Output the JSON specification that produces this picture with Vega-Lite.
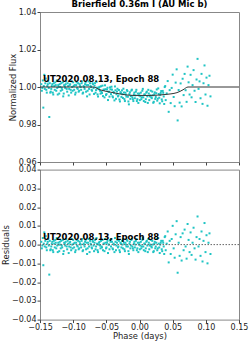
{
  "$schema": "https://vega.github.io/schema/vega-lite/v6.json",
  "padding": {"left": 0, "top": -1, "right": 0, "bottom": 0},
  "config": {
    "font": "DejaVu Sans",
    "view": {"stroke": "#888888", "strokeWidth": 1},
    "axis": {"grid": false, "domain": false, "tickColor": "#444444", "tickSize": 3, "labelFontSize": 8, "labelColor": "#222222", "titleFontSize": 8.4, "titleFontWeight": "normal", "titleColor": "#222222", "labelPadding": 1, "titlePadding": 1, "labelFlush": false, "labelOverlap": false}
  },
  "datasets": {
    "pts": [
      {"x": -0.148, "f": 1.0015, "r": 0.0015}, {"x": -0.1465, "f": 0.9995, "r": -0.0005}, {"x": -0.145, "f": 0.989, "r": -0.011}, {"x": -0.1435, "f": 1.0065, "r": 0.0065}, {"x": -0.142, "f": 1.002, "r": 0.002},
      {"x": -0.1405, "f": 0.9985, "r": -0.0015}, {"x": -0.139, "f": 1.0005, "r": 0.0005}, {"x": -0.1375, "f": 1.003, "r": 0.003}, {"x": -0.136, "f": 0.984, "r": -0.016}, {"x": -0.1345, "f": 0.997, "r": -0.003},
      {"x": -0.133, "f": 0.999, "r": -0.001}, {"x": -0.1315, "f": 1.0015, "r": 0.0015}, {"x": -0.13, "f": 0.996, "r": -0.004}, {"x": -0.1285, "f": 1.0005, "r": 0.0005}, {"x": -0.127, "f": 1.0025, "r": 0.0025},
      {"x": -0.1255, "f": 0.998, "r": -0.002}, {"x": -0.124, "f": 0.9995, "r": -0.0005}, {"x": -0.1225, "f": 1.001, "r": 0.001}, {"x": -0.121, "f": 0.9965, "r": -0.0035}, {"x": -0.1195, "f": 1.0, "r": 0.0},
      {"x": -0.118, "f": 1.002, "r": 0.002}, {"x": -0.1165, "f": 0.9985, "r": -0.0015}, {"x": -0.115, "f": 0.995, "r": -0.005}, {"x": -0.1135, "f": 1.001, "r": 0.001}, {"x": -0.112, "f": 0.9995, "r": -0.0005},
      {"x": -0.1105, "f": 1.003, "r": 0.003}, {"x": -0.109, "f": 0.9975, "r": -0.0025}, {"x": -0.1075, "f": 1.0005, "r": 0.0005}, {"x": -0.106, "f": 0.999, "r": -0.001}, {"x": -0.1045, "f": 1.0015, "r": 0.0015},
      {"x": -0.103, "f": 0.997, "r": -0.003}, {"x": -0.1015, "f": 1.0, "r": 0.0}, {"x": -0.1, "f": 1.0025, "r": 0.0025}, {"x": -0.0985, "f": 0.9985, "r": -0.0015}, {"x": -0.097, "f": 0.996, "r": -0.004},
      {"x": -0.0955, "f": 1.001, "r": 0.001}, {"x": -0.094, "f": 0.9995, "r": -0.0005}, {"x": -0.0925, "f": 1.002, "r": 0.002}, {"x": -0.091, "f": 0.998, "r": -0.002}, {"x": -0.0895, "f": 1.0005, "r": 0.0005},
      {"x": -0.088, "f": 0.9985, "r": -0.0015}, {"x": -0.0865, "f": 1.003, "r": 0.003}, {"x": -0.085, "f": 0.997, "r": -0.003}, {"x": -0.0835, "f": 1.0, "r": 0.0}, {"x": -0.082, "f": 1.0015, "r": 0.0015},
      {"x": -0.0805, "f": 0.9975, "r": -0.0025}, {"x": -0.079, "f": 0.995, "r": -0.005}, {"x": -0.0775, "f": 1.001, "r": 0.001}, {"x": -0.076, "f": 0.999, "r": -0.001}, {"x": -0.0745, "f": 1.002, "r": 0.002},
      {"x": -0.073, "f": 1.0, "r": 0.0}, {"x": -0.0715, "f": 0.998, "r": -0.002}, {"x": -0.07, "f": 1.0015, "r": 0.0015}, {"x": -0.0685, "f": 0.99629, "r": -0.0035}, {"x": -0.067, "f": 1.00207, "r": 0.0025},
      {"x": -0.0655, "f": 0.99836, "r": -0.001}, {"x": -0.064, "f": 0.99964, "r": 0.0005}, {"x": -0.0625, "f": 0.99493, "r": -0.004}, {"x": -0.061, "f": 0.99971, "r": 0.001}, {"x": -0.0595, "f": 0.998, "r": -0.0005},
      {"x": -0.058, "f": 1.00038, "r": 0.002}, {"x": -0.0565, "f": 0.99676, "r": -0.0015}, {"x": -0.055, "f": 0.99514, "r": -0.003}, {"x": -0.0535, "f": 0.99852, "r": 0.0005}, {"x": -0.052, "f": 1.0009, "r": 0.003},
      {"x": -0.0505, "f": 0.99578, "r": -0.002}, {"x": -0.049, "f": 0.99866, "r": 0.001}, {"x": -0.0475, "f": 0.99304, "r": -0.0045}, {"x": -0.046, "f": 0.99742, "r": 0.0}, {"x": -0.0445, "f": 0.9998, "r": 0.0025},
      {"x": -0.043, "f": 0.9962, "r": -0.001}, {"x": -0.0415, "f": 0.9986, "r": 0.0015}, {"x": -0.04, "f": 0.9945, "r": -0.0025}, {"x": -0.0385, "f": 0.9969, "r": 0.0}, {"x": -0.037, "f": 1.0003, "r": 0.0035},
      {"x": -0.0355, "f": 0.9937, "r": -0.003}, {"x": -0.034, "f": 0.9976, "r": 0.001}, {"x": -0.0325, "f": 0.995, "r": -0.0015}, {"x": -0.031, "f": 0.9984, "r": 0.002}, {"x": -0.0295, "f": 0.9923, "r": -0.004},
      {"x": -0.028, "f": 0.99674, "r": 0.0005}, {"x": -0.0265, "f": 0.99818, "r": 0.002}, {"x": -0.025, "f": 0.99412, "r": -0.002}, {"x": -0.0235, "f": 0.99706, "r": 0.001}, {"x": -0.022, "f": 0.9925, "r": -0.0035},
      {"x": -0.0205, "f": 0.99594, "r": 0.0}, {"x": -0.019, "f": 0.99837, "r": 0.0025}, {"x": -0.0175, "f": 0.99481, "r": -0.001}, {"x": -0.016, "f": 0.99075, "r": -0.005}, {"x": -0.0145, "f": 0.99719, "r": 0.0015},
      {"x": -0.013, "f": 0.99513, "r": -0.0005}, {"x": -0.0115, "f": 0.99857, "r": 0.003}, {"x": -0.01, "f": 0.99351, "r": -0.002}, {"x": -0.0085, "f": 0.996, "r": 0.0005}, {"x": -0.007, "f": 0.994, "r": -0.0015},
      {"x": -0.0055, "f": 0.9975, "r": 0.002}, {"x": -0.004, "f": 0.9925, "r": -0.003}, {"x": -0.0025, "f": 0.9965, "r": 0.001}, {"x": -0.001, "f": 0.9955, "r": 0.0}, {"x": 0.0005, "f": 0.993, "r": -0.0025},
      {"x": 0.002, "f": 0.997, "r": 0.0015}, {"x": 0.0035, "f": 0.9945, "r": -0.001}, {"x": 0.005, "f": 0.999, "r": 0.0035}, {"x": 0.0065, "f": 0.9925, "r": -0.003}, {"x": 0.008, "f": 0.996, "r": 0.0005},
      {"x": 0.0095, "f": 0.9935, "r": -0.002}, {"x": 0.011, "f": 0.9975, "r": 0.002}, {"x": 0.0125, "f": 0.9915, "r": -0.004}, {"x": 0.014, "f": 0.9965, "r": 0.001}, {"x": 0.0155, "f": 0.995, "r": -0.0005},
      {"x": 0.017, "f": 0.99801, "r": 0.0025}, {"x": 0.0185, "f": 0.99404, "r": -0.0015}, {"x": 0.02, "f": 0.99557, "r": 0.0}, {"x": 0.0215, "f": 0.99211, "r": -0.0035}, {"x": 0.023, "f": 0.99714, "r": 0.0015},
      {"x": 0.0245, "f": 0.99467, "r": -0.001}, {"x": 0.026, "f": 0.9987, "r": 0.003}, {"x": 0.0275, "f": 0.99374, "r": -0.002}, {"x": 0.029, "f": 0.99627, "r": 0.0005}, {"x": 0.0305, "f": 0.9913, "r": -0.0045},
      {"x": 0.032, "f": 0.99684, "r": 0.001}, {"x": 0.0335, "f": 0.99337, "r": -0.0025}, {"x": 0.035, "f": 0.9979, "r": 0.002}, {"x": 0.0365, "f": 0.99494, "r": -0.001}, {"x": 0.038, "f": 0.99997, "r": 0.004},
      {"x": 0.0395, "f": 0.99301, "r": -0.003}, {"x": 0.041, "f": 0.99659, "r": 0.0005}, {"x": 0.0425, "f": 1.00317, "r": 0.007}, {"x": 0.044, "f": 0.98676, "r": -0.0095}, {"x": 0.0455, "f": 0.99834, "r": 0.002},
      {"x": 0.047, "f": 0.99142, "r": -0.005}, {"x": 0.0485, "f": 0.99951, "r": 0.003}, {"x": 0.05, "f": 1.00659, "r": 0.01}, {"x": 0.0515, "f": 0.99467, "r": -0.002}, {"x": 0.053, "f": 0.98976, "r": -0.007},
      {"x": 0.0545, "f": 1.00234, "r": 0.0055}, {"x": 0.056, "f": 1.00942, "r": 0.0125}, {"x": 0.0575, "f": 0.98217, "r": -0.015}, {"x": 0.059, "f": 0.99841, "r": 0.001}, {"x": 0.0605, "f": 0.99166, "r": -0.006},
      {"x": 0.062, "f": 1.00191, "r": 0.004}, {"x": 0.0635, "f": 0.98965, "r": -0.0085}, {"x": 0.065, "f": 1.0044, "r": 0.006}, {"x": 0.0665, "f": 0.99568, "r": -0.003}, {"x": 0.068, "f": 1.00698, "r": 0.008},
      {"x": 0.0695, "f": 0.99828, "r": -0.001}, {"x": 0.071, "f": 0.99208, "r": -0.0075}, {"x": 0.0725, "f": 1.01088, "r": 0.011}, {"x": 0.074, "f": 1.0025, "r": 0.0025}, {"x": 0.0755, "f": 0.996, "r": -0.004},
      {"x": 0.077, "f": 1.0065, "r": 0.0065}, {"x": 0.0785, "f": 0.9945, "r": -0.0055}, {"x": 0.08, "f": 1.001, "r": 0.001}, {"x": 0.0815, "f": 1.009, "r": 0.009}, {"x": 0.083, "f": 0.998, "r": -0.002},
      {"x": 0.0845, "f": 0.992, "r": -0.008}, {"x": 0.086, "f": 1.004, "r": 0.004}, {"x": 0.0875, "f": 1.015, "r": 0.015}, {"x": 0.089, "f": 0.999, "r": -0.001}, {"x": 0.0905, "f": 1.003, "r": 0.003},
      {"x": 0.092, "f": 0.994, "r": -0.006}, {"x": 0.0935, "f": 1.007, "r": 0.007}, {"x": 0.095, "f": 0.991, "r": -0.009}, {"x": 0.0965, "f": 1.002, "r": 0.002}, {"x": 0.098, "f": 1.0115, "r": 0.0115},
      {"x": 0.0995, "f": 0.996, "r": -0.004}, {"x": 0.101, "f": 1.005, "r": 0.005}, {"x": 0.1025, "f": 0.99, "r": -0.01}, {"x": 0.104, "f": 1.001, "r": 0.001}, {"x": 0.1055, "f": 1.006, "r": 0.006},
      {"x": 0.107, "f": 0.995, "r": -0.005},
      {"x": -0.14725, "f": 0.998, "r": -0.002}, {"x": -0.14575, "f": 1.0035, "r": 0.0035}, {"x": -0.14425, "f": 1.0005, "r": 0.0005}, {"x": -0.14275, "f": 0.999, "r": -0.001}, {"x": -0.14125, "f": 1.0045, "r": 0.0045},
      {"x": -0.13975, "f": 0.997, "r": -0.003}, {"x": -0.13825, "f": 1.0015, "r": 0.0015}, {"x": -0.13675, "f": 0.9995, "r": -0.0005}, {"x": -0.13525, "f": 1.002, "r": 0.002}, {"x": -0.13375, "f": 0.9975, "r": -0.0025},
      {"x": -0.13225, "f": 1.0005, "r": 0.0005}, {"x": -0.13075, "f": 0.997, "r": -0.003}, {"x": -0.12925, "f": 1.002, "r": 0.002}, {"x": -0.12775, "f": 0.9985, "r": -0.0015}, {"x": -0.12625, "f": 1.001, "r": 0.001},
      {"x": -0.12475, "f": 1.0035, "r": 0.0035}, {"x": -0.12325, "f": 0.996, "r": -0.004}, {"x": -0.12175, "f": 1.0, "r": 0.0}, {"x": -0.12025, "f": 1.0015, "r": 0.0015}, {"x": -0.11875, "f": 0.998, "r": -0.002},
      {"x": -0.11725, "f": 0.9995, "r": -0.0005}, {"x": -0.11575, "f": 1.0025, "r": 0.0025}, {"x": -0.11425, "f": 0.9965, "r": -0.0035}, {"x": -0.11275, "f": 1.0005, "r": 0.0005}, {"x": -0.11125, "f": 1.0015, "r": 0.0015},
      {"x": -0.10975, "f": 0.999, "r": -0.001}, {"x": -0.10825, "f": 1.002, "r": 0.002}, {"x": -0.10675, "f": 0.9955, "r": -0.0045}, {"x": -0.10525, "f": 1.001, "r": 0.001}, {"x": -0.10375, "f": 0.9985, "r": -0.0015},
      {"x": -0.10225, "f": 1.003, "r": 0.003}, {"x": -0.10075, "f": 0.998, "r": -0.002}, {"x": -0.09925, "f": 1.0005, "r": 0.0005}, {"x": -0.09775, "f": 1.001, "r": 0.001}, {"x": -0.09625, "f": 0.997, "r": -0.003},
      {"x": -0.09475, "f": 1.0025, "r": 0.0025}, {"x": -0.09325, "f": 0.999, "r": -0.001}, {"x": -0.09175, "f": 0.9975, "r": -0.0025}, {"x": -0.09025, "f": 1.0015, "r": 0.0015}, {"x": -0.08875, "f": 1.0, "r": 0.0},
      {"x": -0.08725, "f": 1.002, "r": 0.002}, {"x": -0.08575, "f": 0.9965, "r": -0.0035}, {"x": -0.08425, "f": 1.0005, "r": 0.0005}, {"x": -0.08275, "f": 0.999, "r": -0.001}, {"x": -0.08125, "f": 1.0025, "r": 0.0025},
      {"x": -0.07975, "f": 1.001, "r": 0.001}, {"x": -0.07825, "f": 0.998, "r": -0.002}, {"x": -0.07675, "f": 1.003, "r": 0.003}, {"x": -0.07525, "f": 0.996, "r": -0.004}, {"x": -0.07375, "f": 1.0005, "r": 0.0005},
      {"x": -0.07225, "f": 0.9985, "r": -0.0015}, {"x": -0.07075, "f": 1.002, "r": 0.002}, {"x": -0.06925, "f": 0.9994, "r": -0.0005}, {"x": -0.06775, "f": 1.00068, "r": 0.001}, {"x": -0.06625, "f": 0.99697, "r": -0.0025},
      {"x": -0.06475, "f": 1.00275, "r": 0.0035}, {"x": -0.06325, "f": 0.99604, "r": -0.003}, {"x": -0.06175, "f": 0.99882, "r": 0.0}, {"x": -0.06025, "f": 1.0001, "r": 0.0015}, {"x": -0.05875, "f": 0.99644, "r": -0.002},
      {"x": -0.05725, "f": 0.99732, "r": -0.001}, {"x": -0.05575, "f": 1.0007, "r": 0.0025}, {"x": -0.05425, "f": 0.99858, "r": 0.0005}, {"x": -0.05275, "f": 0.99446, "r": -0.0035}, {"x": -0.05125, "f": 0.99884, "r": 0.001},
      {"x": -0.04975, "f": 0.99622, "r": -0.0015}, {"x": -0.04825, "f": 0.9996, "r": 0.002}, {"x": -0.04675, "f": 0.99748, "r": 0.0}, {"x": -0.04525, "f": 0.99486, "r": -0.0025}, {"x": -0.04375, "f": 0.99875, "r": 0.0015},
      {"x": -0.04225, "f": 1.00015, "r": 0.003}, {"x": -0.04075, "f": 0.99505, "r": -0.002}, {"x": -0.03925, "f": 0.99745, "r": 0.0005}, {"x": -0.03775, "f": 0.99285, "r": -0.004}, {"x": -0.03625, "f": 0.99825, "r": 0.0015},
      {"x": -0.03475, "f": 0.99615, "r": -0.0005}, {"x": -0.03325, "f": 0.99905, "r": 0.0025}, {"x": -0.03175, "f": 0.99545, "r": -0.001}, {"x": -0.03025, "f": 0.99335, "r": -0.003}, {"x": -0.02875, "f": 0.99727, "r": 0.001},
      {"x": -0.02725, "f": 0.99471, "r": -0.0015}, {"x": -0.02575, "f": 0.99615, "r": 0.0}, {"x": -0.02425, "f": 0.99909, "r": 0.003}, {"x": -0.02275, "f": 0.99353, "r": -0.0025}, {"x": -0.02125, "f": 0.99697, "r": 0.001},
      {"x": -0.01975, "f": 0.9949, "r": -0.001}, {"x": -0.01825, "f": 0.99784, "r": 0.002}, {"x": -0.01675, "f": 0.99228, "r": -0.0035}, {"x": -0.01525, "f": 0.99622, "r": 0.0005}, {"x": -0.01375, "f": 0.99366, "r": -0.002},
      {"x": -0.01225, "f": 0.9981, "r": 0.0025}, {"x": -0.01075, "f": 0.99454, "r": -0.001}, {"x": -0.00925, "f": 0.9925, "r": -0.003}, {"x": -0.00775, "f": 0.997, "r": 0.0015}, {"x": -0.00625, "f": 0.9955, "r": 0.0},
      {"x": -0.00475, "f": 0.9985, "r": 0.003}, {"x": -0.00325, "f": 0.9935, "r": -0.002}, {"x": -0.00175, "f": 0.9915, "r": -0.004}, {"x": -0.00025, "f": 0.9965, "r": 0.001}, {"x": 0.00125, "f": 0.995, "r": -0.0005},
      {"x": 0.00275, "f": 0.9935, "r": -0.002}, {"x": 0.00425, "f": 0.998, "r": 0.0025}, {"x": 0.00575, "f": 0.9945, "r": -0.001}, {"x": 0.00725, "f": 0.996, "r": 0.0005}, {"x": 0.00875, "f": 0.992, "r": -0.0035},
      {"x": 0.01025, "f": 0.997, "r": 0.0015}, {"x": 0.01175, "f": 0.995, "r": -0.0005}, {"x": 0.01325, "f": 0.9985, "r": 0.003}, {"x": 0.01475, "f": 0.993, "r": -0.0025}, {"x": 0.01625, "f": 0.9955, "r": 0.0},
      {"x": 0.01775, "f": 0.99452, "r": -0.001}, {"x": 0.01925, "f": 0.99756, "r": 0.002}, {"x": 0.02075, "f": 0.99159, "r": -0.004}, {"x": 0.02225, "f": 0.99612, "r": 0.0005}, {"x": 0.02375, "f": 0.99365, "r": -0.002},
      {"x": 0.02525, "f": 0.99669, "r": 0.001}, {"x": 0.02675, "f": 0.99272, "r": -0.003}, {"x": 0.02825, "f": 0.99925, "r": 0.0035}, {"x": 0.02975, "f": 0.99429, "r": -0.0015}, {"x": 0.03125, "f": 0.99582, "r": 0.0},
      {"x": 0.03275, "f": 0.99785, "r": 0.002}, {"x": 0.03425, "f": 0.99239, "r": -0.0035}, {"x": 0.03575, "f": 0.99692, "r": 0.001}, {"x": 0.03725, "f": 0.99095, "r": -0.005}, {"x": 0.03875, "f": 1.00049, "r": 0.0045}
    ],
    "model": [
      {"x": -0.15, "f": 1.0}, {"x": -0.07, "f": 1.0}, {"x": -0.0595, "f": 0.9985}, {"x": -0.0445, "f": 0.9973}, {"x": -0.0294, "f": 0.9963}, {"x": -0.0098, "f": 0.9955},
      {"x": 0.0158, "f": 0.9955}, {"x": 0.0384, "f": 0.996}, {"x": 0.0565, "f": 0.997}, {"x": 0.0656, "f": 0.9985}, {"x": 0.0731, "f": 1.0}, {"x": 0.15, "f": 1.0}
    ],
    "label": [{"x": -0.1455, "f": 1.0027, "r": 0.0027, "t": "UT2020.08.13, Epoch 88"}]
  },
  "vconcat": [
    {
      "width": 199,
      "height": 150,
      "title": {"text": "Brierfield 0.36m I (AU Mic b)", "fontSize": 8.5, "fontWeight": "bold", "anchor": "middle", "offset": 0, "color": "#000000"},
      "layer": [
        {
          "data": {"name": "pts"},
          "mark": {"type": "square", "size": 4, "color": "#1fc4c4", "opacity": 1},
          "encoding": {
            "x": {"field": "x", "type": "quantitative", "scale": {"domain": [-0.15, 0.15], "nice": false}, "axis": {"labels": false, "title": null, "values": [-0.15, -0.1, -0.05, 0, 0.05, 0.1, 0.15], "tickCount": 30}},
            "y": {"field": "f", "type": "quantitative", "scale": {"domain": [0.96, 1.04], "nice": false, "zero": false}, "axis": {"values": [0.96, 0.98, 1.0, 1.02, 1.04], "tickCount": 30, "format": ".2f", "title": "Normalized Flux", "labelOverlap": false}}
          }
        },
        {
          "data": {"name": "model"},
          "mark": {"type": "line", "color": "#333333", "strokeWidth": 1, "interpolate": "monotone"},
          "encoding": {
            "x": {"field": "x", "type": "quantitative"},
            "y": {"field": "f", "type": "quantitative"}
          }
        },
        {
          "data": {"name": "label"},
          "mark": {"type": "text", "align": "left", "baseline": "alphabetic", "fontWeight": "bold", "fontSize": 8.5, "color": "#000000"},
          "encoding": {
            "x": {"field": "x", "type": "quantitative"},
            "y": {"field": "f", "type": "quantitative"},
            "text": {"field": "t"}
          }
        }
      ]
    },
    {
      "width": 199,
      "height": 150,
      "layer": [
        {
          "data": {"name": "pts"},
          "mark": {"type": "square", "size": 4, "color": "#1fc4c4", "opacity": 1},
          "encoding": {
            "x": {"field": "x", "type": "quantitative", "scale": {"domain": [-0.15, 0.15], "nice": false}, "axis": {"values": [-0.15, -0.1, -0.05, 0, 0.05, 0.1, 0.15], "tickCount": 30, "format": ".2f", "title": "Phase (days)", "labelPadding": 1, "titlePadding": 0, "labelOverlap": false}},
            "y": {"field": "r", "type": "quantitative", "scale": {"domain": [-0.04, 0.04], "nice": false, "zero": false}, "axis": {"values": [-0.04, -0.03, -0.02, -0.01, 0, 0.01, 0.02, 0.03, 0.04], "tickCount": 30, "format": ".2f", "title": "Residuals", "labelOverlap": false}}
          }
        },
        {
          "data": {"values": [{"v": 0}]},
          "mark": {"type": "rule", "color": "#666666", "strokeWidth": 1, "strokeDash": [1.5, 1.5]},
          "encoding": {"y": {"field": "v", "type": "quantitative"}}
        },
        {
          "data": {"name": "label"},
          "mark": {"type": "text", "align": "left", "baseline": "alphabetic", "fontWeight": "bold", "fontSize": 8.5, "color": "#000000"},
          "encoding": {
            "x": {"field": "x", "type": "quantitative"},
            "y": {"field": "r", "type": "quantitative"},
            "text": {"field": "t"}
          }
        }
      ]
    }
  ],
  "spacing": 7.6,
  "bounds": "flush"
}
